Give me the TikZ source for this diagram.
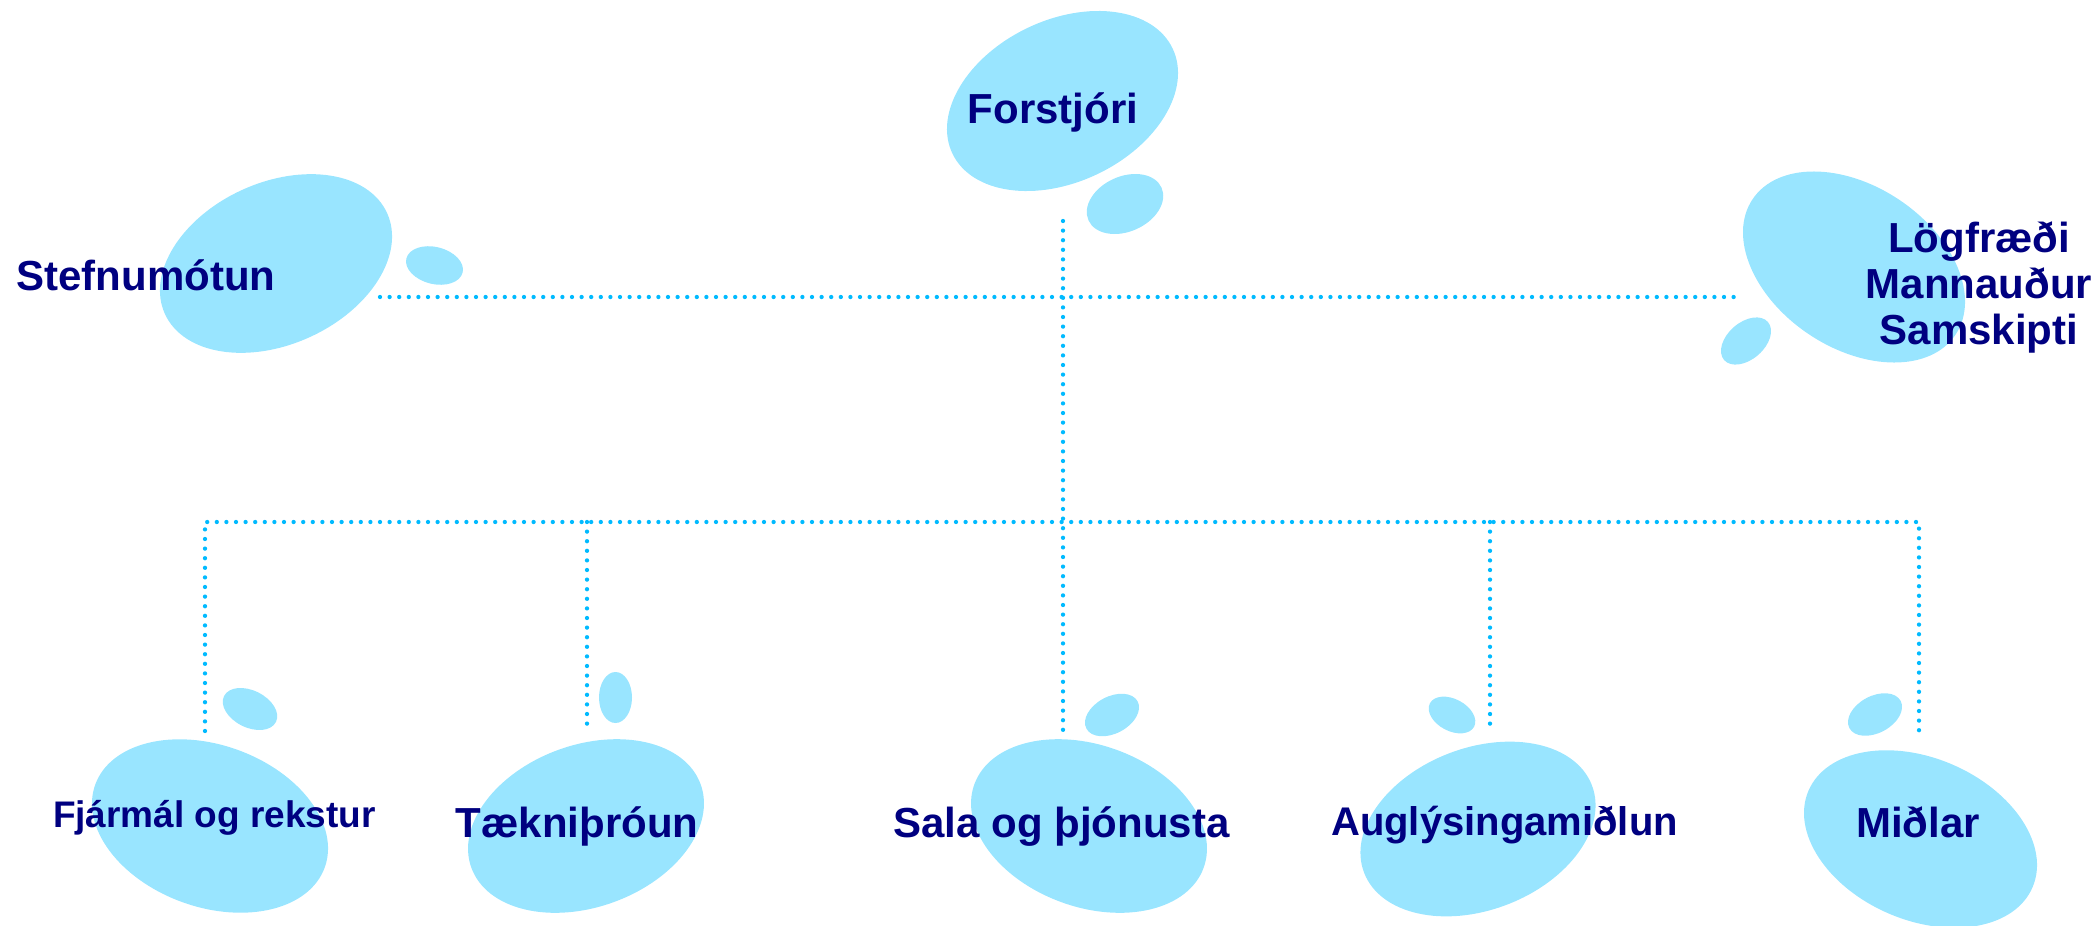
\documentclass[tikz,border=0pt]{standalone}
\usepackage{fontspec}
\setmainfont{Liberation Sans}
\definecolor{blob}{RGB}{153,229,255}
\definecolor{dotc}{RGB}{0,186,255}
\definecolor{txt}{RGB}{0,0,128}
\newcommand\blobE[5]{\fill[blob, rotate around={#3:(#1,#2)}] (#1,#2) ellipse [x radius=#4, y radius=#5];}
\begin{document}
\begin{tikzpicture}[x=0.5pt,y=-0.5pt,
  conn/.style={draw=dotc, line width=2.15pt, line cap=round, dash pattern=on 0pt off 4.8pt},
  lbl/.style={text=txt, font=\bfseries\fontsize{21}{23}\selectfont, inner sep=0pt, anchor=base}]
\useasboundingbox (0,0) rectangle (2099,926);
% big blobs
\blobE{1062.5}{101}{25.5}{122}{81}
\blobE{276}{263.5}{24.4}{122}{81}
\blobE{1854}{267}{-33.7}{122}{81}
\blobE{210}{826}{-19.8}{122}{81}
\blobE{586}{826}{20}{122}{81}
\blobE{1089}{826}{-20}{122}{81}
\blobE{1478}{829}{21}{122}{81}
\blobE{1920.5}{839}{-23.4}{122}{81}
% small blobs
\blobE{1125}{204}{24}{40}{27.6}
\blobE{434.5}{265.5}{-14}{29}{18.5}
\blobE{1746}{341}{41}{29}{18.5}
\blobE{250}{709}{-26.5}{29}{18.5}
\blobE{615.5}{697.5}{90}{25.5}{16.5}
\blobE{1112}{715}{28}{29}{18.5}
\blobE{1452}{715}{-28}{25}{16}
\blobE{1875}{714.5}{28}{29}{18.5}
% connector end points
\coordinate (trunkTop) at (1063,221);
\coordinate (upL) at (380,297);
\coordinate (upR) at (1735,297);
\coordinate (busL) at (205,522);
\coordinate (busR) at (1919,522);
\coordinate (jT) at (587,522);
\coordinate (jA) at (1490,522);
\coordinate (dF) at (205,731);
\coordinate (dT) at (587,731);
\coordinate (dS) at (1063,731);
\coordinate (dA) at (1490,731);
\coordinate (dM) at (1919,731);
% connectors
\draw[conn] (trunkTop) -- (dS);
\draw[conn] (upL) -- (upR);
\draw[conn] (dF) -- (busL) -- (busR) -- (dM);
\draw[conn] (jT) -- (dT);
\draw[conn] (jA) -- (dA);
% labels
\node[lbl] (forstjori) at (1053,123) {Forstjóri};
\node[lbl] (stefnu) at (146,290) {Stefnumótun};
\node[lbl, align=center, anchor=center] (logf) at (1979,287) {Lögfræði\\Mannauður\\Samskipti};
\node[lbl, font=\bfseries\fontsize{18.5}{20}\selectfont] (fjar) at (214.5,827) {Fjármál og rekstur};
\node[lbl] (taekni) at (577,837) {Tækniþróun};
\node[lbl] (sala) at (1061.5,837) {Sala og þjónusta};
\node[lbl, font=\bfseries\fontsize{20}{22}\selectfont] (augl) at (1504.5,835) {Auglýsingamiðlun};
\node[lbl] (midlar) at (1918,837) {Miðlar};
\end{tikzpicture}
\end{document}
